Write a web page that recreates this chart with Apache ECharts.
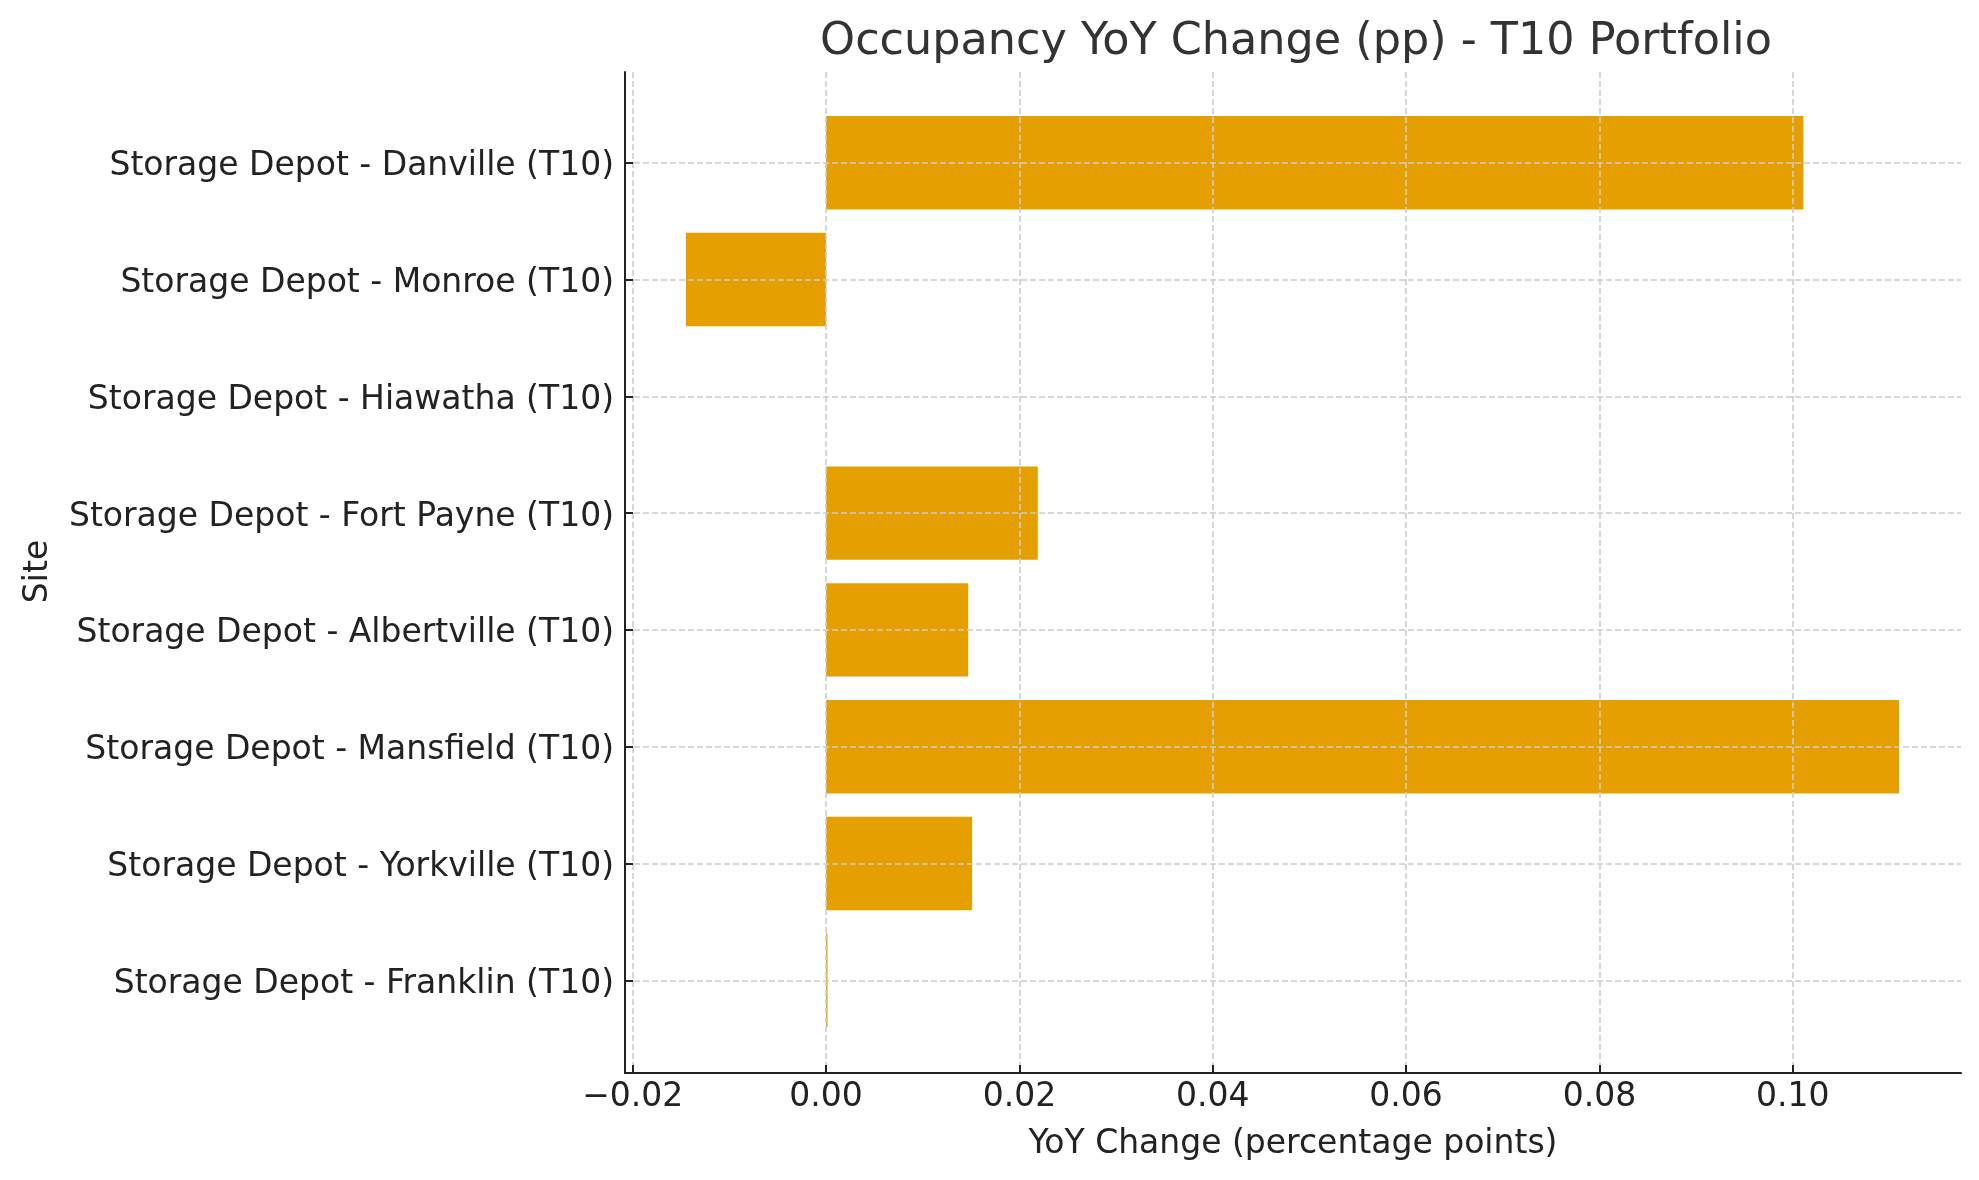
<!DOCTYPE html>
<html>
<head>
<meta charset="utf-8">
<script src="https://cdn.jsdelivr.net/npm/echarts@6/dist/echarts.min.js"></script>
<style>
html,body{margin:0;padding:0;background:#fff;}
#chart{width:1979px;height:1180px;}
</style>
</head>
<body>
<div id="chart"></div>
<script>
const titleText = 'Occupancy YoY Change (pp) - T10 Portfolio';
const xAxisTitle = 'YoY Change (percentage points)';
const yAxisTitle = 'Site';
const categories = [
  'Storage Depot - Danville (T10)',
  'Storage Depot - Monroe (T10)',
  'Storage Depot - Hiawatha (T10)',
  'Storage Depot - Fort Payne (T10)',
  'Storage Depot - Albertville (T10)',
  'Storage Depot - Mansfield (T10)',
  'Storage Depot - Yorkville (T10)',
  'Storage Depot - Franklin (T10)'
];
const yoyChange = [0.1011, -0.0145, 0.0, 0.0219, 0.0147, 0.1110, 0.0151, 0.00015];
const xTicks = [-0.02, 0.0, 0.02, 0.04, 0.06, 0.08, 0.10];
const xMin = -0.0208;
const xMax = 0.1174;

const FONT = 'DejaVu Sans';
const gridColor = '#cccccc';
const fmt = v => (v < 0 ? '\u2212' + Math.abs(v).toFixed(2) : v.toFixed(2));

const chart = echarts.init(document.getElementById('chart'), null, {renderer: 'canvas'});
chart.setOption({
  animation: false,
  backgroundColor: '#ffffff',
  title: {
    text: titleText,
    left: 1291,
    textAlign: 'center',
    top: 15,
    textStyle: {fontFamily: FONT, fontSize: 44.5, fontWeight: 'normal', color: '#333333'}
  },
  grid: [
    {left: 625, right: 18, top: 72, bottom: 107, containLabel: false},
    {left: 625, right: 18, top: 104.3, bottom: 141.3, containLabel: false}
  ],
  xAxis: [
    {
      type: 'value', gridIndex: 0, min: xMin, max: xMax, z: 10,
      name: xAxisTitle, nameLocation: 'middle', nameGap: 55,
      nameTextStyle: {fontFamily: FONT, fontSize: 33, color: '#222222'},
      axisLine: {show: true, onZero: false, lineStyle: {color: '#222222', width: 2}},
      axisTick: {show: true, inside: true, length: 8, customValues: xTicks, lineStyle: {color: '#222222', width: 2}},
      axisLabel: {show: true, customValues: xTicks, formatter: fmt, margin: 8,
        fontFamily: FONT, fontSize: 33, color: '#222222'},
      splitLine: {show: true, lineStyle: {color: gridColor, width: 1.6, type: [6, 3]}}
    },
    {
      type: 'value', gridIndex: 1, min: xMin, max: xMax, show: false,
      splitLine: {show: false}
    }
  ],
  yAxis: [
    {
      type: 'value', gridIndex: 0, min: 0, max: 1, z: 10,
      axisLine: {show: true, onZero: false, lineStyle: {color: '#222222', width: 2}},
      axisTick: {show: false}, axisLabel: {show: false}, splitLine: {show: false}
    },
    {
      type: 'category', gridIndex: 1, data: categories, inverse: true, z: 10,
      name: yAxisTitle, nameLocation: 'middle', nameGap: 570, nameRotate: 90,
      nameTextStyle: {fontFamily: FONT, fontSize: 33, color: '#222222'},
      axisLine: {show: false, onZero: false},
      axisTick: {show: true, inside: true, length: 8, alignWithLabel: true, lineStyle: {color: '#222222', width: 2}},
      axisLabel: {
        fontFamily: FONT, fontSize: 33, color: '#222222', margin: 11,
        formatter: v => '{c|' + v + '}',
        rich: {c: {fontFamily: FONT, fontSize: 33, color: '#222222', padding: [8, 0, 0, 0]}}
      },
      splitLine: {show: false}
    }
  ],
  series: [
    {
      type: 'bar', xAxisIndex: 1, yAxisIndex: 1, data: yoyChange,
      barWidth: '80%', z: 2,
      itemStyle: {color: '#E69F00'},
      silent: true
    },
    {
      type: 'line', xAxisIndex: 1, yAxisIndex: 1, data: [], z: 5,
      silent: true, showSymbol: false,
      markLine: {
        silent: true, symbol: 'none', label: {show: false},
        lineStyle: {color: gridColor, width: 1.6, type: [6, 3]},
        data: categories.map(c => ({yAxis: c}))
      }
    }
  ]
});
</script>
</body>
</html>
